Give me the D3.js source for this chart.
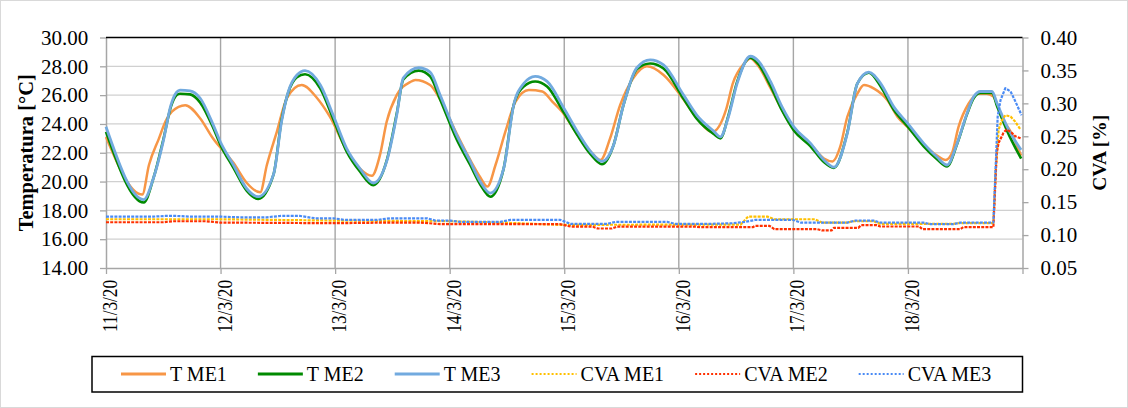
<!DOCTYPE html>
<html>
<head>
<meta charset="utf-8">
<script src="https://cdn.jsdelivr.net/npm/d3@7"></script>
<style>
body { margin: 0; background: #fff; }
svg text { font-family: "Liberation Serif", "Times New Roman", serif; fill: #000; }
</style>
</head>
<body>
<div id="chart"></div>
<script>
// hours since 11/3/20 00:00 and readings, one pair of arrays per series
var hoursME1 = [0,7.6,9.0,11.1,12.5,13.8,16.6,19.7,22.4,26.7,29.5,32.3,33.7,35.8,37.9,41.0,44.2,46.9,50.4,53.2,55.7,57.4,58.8,60.9,63.7,64.8,67.9,70.0,73.5,76.3,78.4,79.9,81.6,83.7,85.8,88.6,91.4,93.5,95.9,98.7,101.5,103.6,105.6,107.7,110.5,113.3,116.8,121.0,123.8,127.0,129.9,131.3,133.7,135.0,136.7,139.2,141.6,144.1,147.6,150.4,152.2,153.8,155.3,157.4,158.8,160.9,163.7,165.8,167.9,171.3,174.1,175.9,177.2,178.6,180.7,182.8,184.5,185.9,187.6,189.7,191.7];
var tME1 = [23.1,19.1,21.15,23.0,24.2,24.85,25.3,24.4,23.0,21.3,19.9,19.25,21.15,23.47,25.8,26.7,25.8,24.5,22.2,20.9,20.4,21.85,24.15,26.0,26.9,27.05,26.7,25.7,23.3,21.5,20.3,19.65,21.15,23.5,25.55,26.35,26.25,25.55,24.7,23.3,22.1,21.5,23.0,25.3,27.2,28.0,27.4,25.7,24.4,23.45,25.0,26.8,28.2,28.55,28.0,26.5,25.0,23.6,22.6,21.6,21.4,22.4,24.5,26.1,26.7,26.45,25.65,24.5,23.8,22.6,21.8,21.5,21.96,23.8,25.4,26.1,26.1,25.9,24.5,23.35,21.8];

var hoursME23 = [0,7.9,10,12,13.6,14.8,15.5,17.6,19.7,22.5,23.9,26.7,29.5,31.9,35.1,36.8,38.2,40.0,41.7,44.9,47.6,50.4,53.2,56.0,58.8,60.9,62.3,65.5,67.9,70.0,73.5,76.3,78.4,80.5,83.3,85.4,87.5,89.9,92.4,95.9,98.7,101.5,103.9,106.3,108.4,111.2,114.0,116.8,121.0,123.8,127.3,128.7,130.4,132.2,135.0,136.7,139.2,141.6,144.1,147.6,150.4,152.5,155.3,157.4,159.8,162.3,165.0,167.9,171.3,174.1,176.2,178.3,180.4,181.8,183.2,185.6,186.7,188.8,191.7];
var tME2 = [23.45,18.55,20.3,22.9,25.2,26.0,26.1,26.05,25.5,23.7,22.6,20.95,19.35,18.8,20.5,24.3,26.2,27.25,27.45,26.45,24.35,22.1,20.7,19.75,21.45,24.7,27.1,27.7,27.3,25.7,22.9,21.15,19.8,18.95,20.9,25.3,26.6,26.95,26.6,24.8,23.25,21.9,21.2,22.5,25.3,27.8,28.2,27.85,25.75,24.35,23.3,23.0,24.6,26.9,28.6,28.15,26.65,24.95,23.55,22.45,21.35,20.95,23.4,26.8,27.55,26.6,25.0,23.85,22.45,21.55,21.05,22.6,24.7,25.8,26.15,26.15,25.2,23.5,21.6];
var tME3 = [23.8,18.75,20.3,22.8,25.3,26.2,26.35,26.3,25.8,23.9,22.8,21.15,19.5,18.95,20.5,24.2,26.25,27.4,27.7,26.7,24.6,22.3,20.9,19.9,21.4,24.6,27.2,27.9,27.6,26.0,23.2,21.4,20.0,19.2,20.9,25.3,26.8,27.3,26.95,25.1,23.5,22.1,21.4,22.5,25.3,27.9,28.45,28.1,26.0,24.6,23.5,23.1,24.5,26.8,28.7,28.35,26.95,25.2,23.8,22.65,21.5,21.0,23.35,26.8,27.6,26.8,25.2,24.05,22.65,21.7,21.15,22.65,24.75,25.9,26.25,26.25,25.4,23.8,22.2];

var hoursCVA1 = [0,23.9,47.6,72.0,82.6,95.2,133.0,134.5,138.6,140.0,148.5,150.0,155.3,156.5,160.8,162.2,177.5,178.6,185.9,186.4,187.0,187.6,188.4,189.5,190.5,191.6];
var cvaME1 = [0.124,0.124,0.122,0.121,0.119,0.1155,0.116,0.128,0.128,0.124,0.124,0.119,0.119,0.121,0.121,0.117,0.117,0.118,0.118,0.2,0.26,0.273,0.282,0.28,0.272,0.26];

var hoursCVA2 = [0,12,14,21,23.9,47.6,60,66,70,95.2,97.5,102,103,106,107,123.6,124.5,135.5,136,139,140,149,150,152,152.5,157.6,158.2,161.5,162.2,170.4,171,179,179.6,185.9,186.2,186.6,187.0,188.0,188.6,189.5,190.5,191.6];
var cvaME2 = [0.1195,0.1195,0.121,0.121,0.119,0.118,0.119,0.119,0.1165,0.1165,0.1127,0.1127,0.110,0.110,0.1127,0.1127,0.112,0.112,0.114,0.114,0.109,0.109,0.107,0.107,0.111,0.111,0.115,0.115,0.113,0.113,0.109,0.109,0.112,0.112,0.16,0.225,0.24,0.255,0.26,0.257,0.25,0.247];

var hoursCVA3 = [0,9.9,12.4,14.9,17.6,23.9,28.1,33.7,36.5,40.7,43.8,47.6,50.1,56.8,59.5,67.3,69.0,72.1,74.2,82.6,84.7,95.2,97.3,105.0,106.7,117.6,119.3,126.6,131.4,133.9,136.0,144.0,145.5,155.3,157.0,160.8,162.2,171.2,172.7,177.5,179.0,185.9,186.3,186.8,187.4,188.4,189.5,190.5,191.8];
var cvaME3 = [0.128,0.128,0.129,0.129,0.128,0.128,0.127,0.127,0.129,0.129,0.1255,0.1255,0.123,0.123,0.1255,0.1255,0.122,0.122,0.120,0.120,0.123,0.123,0.117,0.117,0.120,0.120,0.117,0.117,0.118,0.120,0.123,0.123,0.119,0.119,0.122,0.122,0.119,0.119,0.1165,0.1165,0.119,0.119,0.19,0.28,0.305,0.323,0.318,0.303,0.282];

var tempTicks = [14,16,18,20,22,24,26,28,30];
var cvaTicks = [0.05,0.10,0.15,0.20,0.25,0.30,0.35,0.40];
var dayLabels = ["11/3/20","12/3/20","13/3/20","14/3/20","15/3/20","16/3/20","17/3/20","18/3/20"];

var series = [
	{name: "T ME1", hours: hoursME1, values: tME1, axis: "T", color: "#F79646", width: 2.5, dash: null},
	{name: "T ME2", hours: hoursME23, values: tME2, axis: "T", color: "#008A00", width: 2.6, dash: null},
	{name: "T ME3", hours: hoursME23, values: tME3, axis: "T", color: "#72AADF", width: 2.8, dash: null},
	{name: "CVA ME1", hours: hoursCVA1, values: cvaME1, axis: "C", color: "#FFC000", width: 2.2, dash: "3,1.2"},
	{name: "CVA ME2", hours: hoursCVA2, values: cvaME2, axis: "C", color: "#FF3000", width: 2.2, dash: "3,1.2"},
	{name: "CVA ME3", hours: hoursCVA3, values: cvaME3, axis: "C", color: "#4A8BF5", width: 2.2, dash: "3,1.2"}
];

var width = 1128, height = 408;
var plot = {left: 106, right: 1022.5, top: 37.5, bottom: 268};
var gridColor = "#d0d0d0", axisColor = "#a6a6a6";

var svg = d3.select("#chart").append("svg")
	.attr("width", width)
	.attr("height", height);

svg.append("rect")
	.attr("x", 0.5).attr("y", 0.5)
	.attr("width", width - 1).attr("height", height - 1)
	.attr("fill", "#fff").attr("stroke", "#d9d9d9");

var start = Date.UTC(2020, 2, 11);
var x = d3.scaleUtc()
	.domain([new Date(start), new Date(Date.UTC(2020, 2, 19))])
	.range([plot.left, plot.right]);
var yT = d3.scaleLinear().domain([14, 30]).range([plot.bottom, plot.top]);
var yC = d3.scaleLinear().domain([0.05, 0.40]).range([plot.bottom, plot.top]);
var days = d3.utcDay.range(new Date(start), new Date(Date.UTC(2020, 2, 19, 1)));

function hx(h) { return x(new Date(start + h * 3600000)); }

//gridlines
svg.append("g").selectAll("line")
	.data(tempTicks.slice(1, -1))
	.enter().append("line")
	.attr("x1", plot.left).attr("x2", plot.right)
	.attr("y1", function(d) { return yT(d); })
	.attr("y2", function(d) { return yT(d); })
	.attr("stroke", gridColor).attr("stroke-width", 1.3);

svg.append("g").selectAll("line")
	.data(days.slice(1, -1))
	.enter().append("line")
	.attr("x1", function(d) { return x(d); })
	.attr("x2", function(d) { return x(d); })
	.attr("y1", plot.top).attr("y2", plot.bottom)
	.attr("stroke", axisColor).attr("stroke-width", 1.4);

//axes
function styleAxis(g, size) {
	g.attr("font-family", null).attr("font-size", null);
	g.selectAll(".domain").attr("stroke", axisColor).attr("stroke-width", 1.5);
	g.selectAll(".tick line").attr("stroke", axisColor).attr("stroke-width", 1.3);
	g.selectAll(".tick text").style("font-size", size + "px");
}

svg.append("g")
	.attr("transform", "translate(" + plot.left + ",0)")
	.call(d3.axisLeft(yT).tickValues(tempTicks).tickFormat(d3.format(".2f"))
		.tickSizeInner(6).tickSizeOuter(0).tickPadding(11.7))
	.call(styleAxis, 21);

svg.append("g")
	.attr("transform", "translate(" + plot.right + ",0)")
	.call(d3.axisRight(yC).tickValues(cvaTicks).tickFormat(d3.format(".2f"))
		.tickSizeInner(6).tickSizeOuter(0).tickPadding(12))
	.call(styleAxis, 21);

svg.append("g")
	.attr("transform", "translate(0," + plot.bottom + ")")
	.call(d3.axisBottom(x).tickValues(days).tickFormat("")
		.tickSizeInner(6).tickSizeOuter(0))
	.call(styleAxis, 17);

svg.append("line")
	.attr("x1", plot.left).attr("x2", plot.right)
	.attr("y1", plot.top).attr("y2", plot.top)
	.attr("stroke", "#000").attr("stroke-width", 1.6);

//rotated date labels
svg.append("g").selectAll("text")
	.data(dayLabels)
	.enter().append("text")
	.attr("transform", function(d, i) {
		return "translate(" + (x(days[i]) + 11) + ",280) rotate(-90) scale(0.82,1)";
	})
	.attr("text-anchor", "end")
	.style("font-size", "21px")
	.text(function(d) { return d; });

svg.append("text")
	.attr("transform", "translate(26," + (plot.top + plot.bottom) / 2 + ") rotate(-90)")
	.attr("text-anchor", "middle").attr("dy", "0.33em")
	.style("font-size", "20.5px").style("font-weight", "bold")
	.text("Temperatura [°C]");

svg.append("text")
	.attr("transform", "translate(1100," + (plot.top + plot.bottom) / 2 + ") rotate(-90)")
	.attr("text-anchor", "middle").attr("dy", "0.33em")
	.style("font-size", "19.5px").style("font-weight", "bold")
	.text("CVA [%]");

//series
series.forEach(function(s) {
	var y = s.axis == "T" ? yT : yC;
	var line = d3.line()
		.x(function(d) { return hx(d[0]); })
		.y(function(d) { return y(d[1]); })
		.curve(s.axis == "T" ? d3.curveMonotoneX : d3.curveLinear);
	svg.append("path")
		.datum(d3.zip(s.hours, s.values))
		.attr("fill", "none")
		.attr("stroke", s.color)
		.attr("stroke-width", s.width)
		.attr("stroke-linejoin", "round")
		.attr("stroke-dasharray", s.dash)
		.attr("d", line);
});

//legend
var legend = svg.append("g");
legend.append("rect")
	.attr("x", 92).attr("y", 356.5)
	.attr("width", plot.right - 92).attr("height", 35.5)
	.attr("fill", "#fff").attr("stroke", "#000").attr("stroke-width", 1.5);

var cursor = 121, ly = 374;
series.forEach(function(s) {
	legend.append("line")
		.attr("x1", cursor).attr("x2", cursor + 45)
		.attr("y1", ly).attr("y2", ly)
		.attr("stroke", s.color)
		.attr("stroke-width", s.dash ? 2 : 3)
		.attr("stroke-dasharray", s.dash ? "2,2" : null);
	var t = legend.append("text")
		.attr("x", cursor + 49).attr("y", ly).attr("dy", "0.35em")
		.style("font-size", "20px")
		.text(s.name);
	cursor += 49 + t.node().getComputedTextLength() + 31;
});
</script>
</body>
</html>
